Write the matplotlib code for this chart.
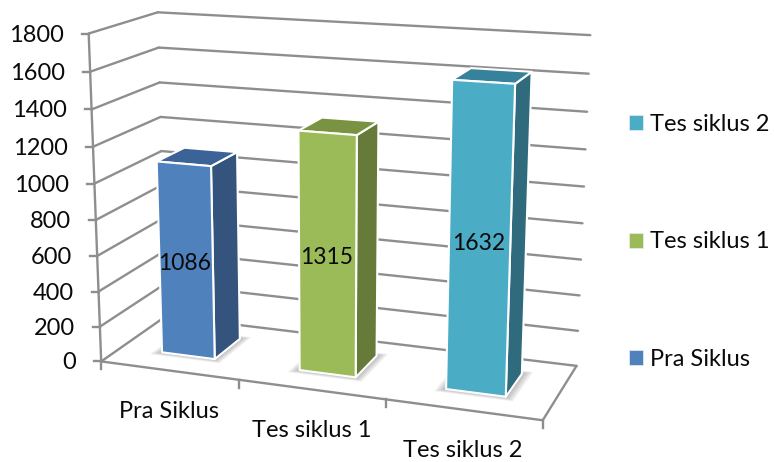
import numpy as np
import matplotlib
matplotlib.use("Agg")
import matplotlib.pyplot as plt
from matplotlib.patches import Polygon, Patch

# ---- data ----
categories = ["Pra Siklus", "Tes siklus 1", "Tes siklus 2"]
values = [1086, 1315, 1632]
y_ticks = [0, 200, 400, 600, 800, 1000, 1200, 1400, 1600, 1800]
front_colors = ["#4F81BD", "#9BBB59", "#4BACC6"]
side_colors = ["#34547E", "#667B3A", "#2F6B7D"]
top_colors = ["#3C6398", "#7A9343", "#37829B"]

plt.rcParams["font.family"] = ["Lato", "DejaVu Sans"]
GRID = "#8E8E8E"
TXT = "#0A0A0A"
Y_MAX = y_ticks[-1]
N = len(categories)

# ---- 3D chart box -> picture: fitted camera from where the box corners sit ----
box_world = np.array([[0, 0, 0], [1, 0, 0], [2, 0, 0], [3, 0, 0], [3, 0, 1], [0, 0, 1],
                      [0, 1800, 0], [0, 1800, 1], [3, 1800, 1], [3, 1000, 1], [0, 1000, 0]], float)
box_px = np.array([[102, 361], [239, 381], [386, 400], [542, 420], [577, 365], [165, 316],
                   [88, 33], [158, 13], [590, 35], [584.5, 187], [95, 183]], float)
rows = []
for (wx, wy, wz), (u, v) in zip(box_world, box_px):
    w = np.array([wx, wy / 1800, wz, 1.0])
    rows.append(np.r_[w, np.zeros(4), -u * w])
    rows.append(np.r_[np.zeros(4), w, -v * w])
P = np.linalg.svd(np.array(rows))[2][-1].reshape(3, 4)


def proj(x, y, z):
    q = P @ np.array([x, y / 1800, z, 1.0])
    return q[0] / q[2], q[1] / q[2]


fig = plt.figure(figsize=(7.74, 4.62), dpi=100)
ax = fig.add_axes([0, 0, 1, 1])
ax.set_xlim(0, 774)
ax.set_ylim(462, 0)
ax.axis("off")


def seg(a, b, **kw):
    pa, pb = proj(*a), proj(*b)
    ax.plot([pa[0], pb[0]], [pa[1], pb[1]], color=GRID, lw=1.7, solid_capstyle="round", zorder=2, **kw)


# gridlines on the side and back walls
for t in y_ticks:
    seg((0, t, 0), (0, t, 1))
    seg((0, t, 1), (N, t, 1))
    x0, y0 = proj(0, t, 0)
    ax.plot([x0 - 7, x0], [y0, y0], color=GRID, lw=1.7, zorder=2)
    ax.text(x0 - 25, y0 + 1.5, str(t), ha="right", va="center", fontsize=17, color=TXT)

# axes and floor
seg((0, 0, 0), (0, Y_MAX, 0))
seg((0, 0, 0), (N, 0, 0))
seg((N, 0, 0), (N, 0, 1))
for i in range(N + 1):
    x0, y0 = proj(i, 0, 0)
    ax.plot([x0, x0], [y0, y0 + 8], color=GRID, lw=1.7, zorder=2)
for i, c in enumerate(categories):
    x0, y0 = proj(i + 0.5, 0, 0)
    ax.text(x0, y0 + 41, c, ha="center", va="center", fontsize=17, color=TXT)

# bars
half_w, z0, z1 = 0.195, 0.30, 0.73
for i, v in enumerate(values):
    a, b = i + 0.5 - half_w, i + 0.5 + half_w
    # soft floor shadow
    for grow in [0.06, 0.045, 0.03, 0.015]:
        pts = [proj(a - grow, 0, z0 - grow), proj(b + grow, 0, z0 - grow),
               proj(b + grow, 0, z1 + grow), proj(a - grow, 0, z1 + grow)]
        ax.add_patch(Polygon(pts, closed=True, fc="#000000", ec="none", alpha=0.07, zorder=3))
    kw = dict(closed=True, ec="white", lw=1.5, joinstyle="round", zorder=4)
    ax.add_patch(Polygon([proj(b, 0, z0), proj(b, 0, z1), proj(b, v, z1), proj(b, v, z0)],
                         fc=side_colors[i], **kw))
    ax.add_patch(Polygon([proj(a, v, z0), proj(b, v, z0), proj(b, v, z1), proj(a, v, z1)],
                         fc=top_colors[i], **kw))
    ax.add_patch(Polygon([proj(a, 0, z0), proj(b, 0, z0), proj(b, v, z0), proj(a, v, z0)],
                         fc=front_colors[i], **kw))
    lx, ly = proj(i + 0.5, v / 2, z0)
    ax.text(lx - 1, ly + 2, str(v), ha="center", va="center", fontsize=16.5, color=TXT, zorder=5)

# legend, last series first
handles = [Patch(fc=front_colors[i], ec="#E8EEF5", lw=0.5, label=categories[i]) for i in range(N)][::-1]
ax.legend(handles=handles, loc="center left", bbox_to_anchor=(629 / 774, 1 - 242 / 462), frameon=False,
          fontsize=17, labelspacing=4.1, handlelength=0.6, handleheight=0.6,
          handletextpad=0.3, borderpad=0, borderaxespad=0, labelcolor=TXT)

fig.savefig("out.png", dpi=100, facecolor="white")
